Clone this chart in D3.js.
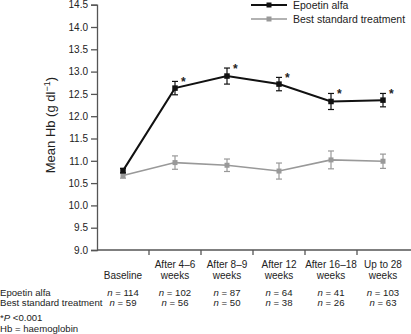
<!DOCTYPE html>
<html>
<head>
<meta charset="utf-8">
<script src="https://cdn.jsdelivr.net/npm/d3@7"></script>
<style>
  body { margin: 0; background: #fff; }
  text { font-family: "Liberation Sans", Arial, sans-serif; fill: #222; }
</style>
</head>
<body>
<div id="chart"></div>
<script>
// data
const categories = ["Baseline", "After 4\u20136|weeks", "After 8\u20139|weeks", "After 12|weeks", "After 16\u201318|weeks", "Up to 28|weeks"];
const epoetinMean = [10.78, 12.63, 12.90, 12.72, 12.33, 12.36];
const epoetinErr = [0.05, 0.15, 0.18, 0.15, 0.18, 0.15];
const bstMean = [10.67, 10.96, 10.90, 10.77, 11.02, 10.99];
const bstErr = [0.06, 0.15, 0.14, 0.18, 0.20, 0.16];
const epoetinN = [114, 102, 87, 64, 41, 103];
const bstN = [59, 56, 50, 38, 26, 63];
const significant = [false, true, true, true, true, true];
const yTicks = [9.0, 9.5, 10.0, 10.5, 11.0, 11.5, 12.0, 12.5, 13.0, 13.5, 14.0, 14.5];

const width = 411, height = 334;
const svg = d3.select("#chart").append("svg")
    .attr("width", width)
    .attr("height", height);

const x = d3.scaleBand()
    .domain(d3.range(categories.length))
    .range([97, 409]);

const y = d3.scaleLinear()
    .domain([9, 14.5])
    .range([250, 4.7]);

// y axis
const yAxis = d3.axisLeft(y)
    .tickValues(yTicks)
    .tickSize(6)
    .tickFormat(d3.format(".1f"));

svg.append("g")
    .attr("transform", "translate(97,0)")
    .call(yAxis)
    .call(g => g.select(".domain").attr("stroke", "#555").attr("stroke-width", 1.3))
    .call(g => g.selectAll(".tick line").attr("stroke", "#555").attr("stroke-width", 1.3))
    .call(g => g.selectAll(".tick text").attr("font-size", 10).attr("fill", "#333").attr("x", -9));

// x axis line with ticks at band boundaries
svg.append("line")
    .attr("x1", 97).attr("x2", width)
    .attr("y1", y(9)).attr("y2", y(9))
    .attr("stroke", "#555").attr("stroke-width", 1.3);

svg.selectAll(".xtick")
    .data(d3.range(1, categories.length))
    .join("line")
    .attr("class", "xtick")
    .attr("x1", i => x(i)).attr("x2", i => x(i))
    .attr("y1", y(9)).attr("y2", y(9) + 5)
    .attr("stroke", "#555").attr("stroke-width", 1.3);

// y label
svg.append("text")
    .attr("transform", `translate(55,${y(11.8)}) rotate(-90)`)
    .attr("text-anchor", "middle")
    .attr("font-size", 13)
    .attr("fill", "#333")
    .html('Mean Hb (g dl<tspan dy="-5" font-size="9">\u22121</tspan><tspan dy="5">)</tspan>');

// category labels
const cx = i => x(i) + x.bandwidth() / 2;
categories.forEach((c, i) => {
    const lines = c.split("|");
    const t = svg.append("text")
        .attr("text-anchor", "middle")
        .attr("font-size", 10)
        .attr("fill", "#333");
    lines.forEach((l, j) => {
        t.append("tspan")
            .attr("x", cx(i))
            .attr("y", 279 - (lines.length - 1 - j) * 11)
            .text(l);
    });
});

// series
const series = [
    {name: "Best standard treatment", mean: bstMean, err: bstErr, color: "#999", lw: 1.6, size: 5},
    {name: "Epoetin alfa", mean: epoetinMean, err: epoetinErr, color: "#111", lw: 2, size: 5.5}
];

const line = d3.line()
    .x((d, i) => cx(i))
    .y(d => y(d));

series.forEach(s => {
    const g = svg.append("g");
    g.append("path")
        .attr("d", line(s.mean))
        .attr("fill", "none")
        .attr("stroke", s.color)
        .attr("stroke-width", s.lw);
    const eb = g.selectAll(".eb")
        .data(s.mean.map((m, i) => ({m, e: s.err[i], i})))
        .join("g");
    eb.append("line")
        .attr("x1", d => cx(d.i)).attr("x2", d => cx(d.i))
        .attr("y1", d => y(d.m - d.e)).attr("y2", d => y(d.m + d.e))
        .attr("stroke", s.color).attr("stroke-width", 1.2);
    eb.selectAll(".cap")
        .data(d => [d.m - d.e, d.m + d.e].map(v => ({v, i: d.i})))
        .join("line")
        .attr("x1", d => cx(d.i) - 3).attr("x2", d => cx(d.i) + 3)
        .attr("y1", d => y(d.v)).attr("y2", d => y(d.v))
        .attr("stroke", s.color).attr("stroke-width", 1.2);
    eb.append("rect")
        .attr("x", d => cx(d.i) - s.size / 2)
        .attr("y", d => y(d.m) - s.size / 2)
        .attr("width", s.size).attr("height", s.size)
        .attr("fill", s.color);
});

// significance asterisks
svg.selectAll(".star")
    .data(epoetinMean.map((m, i) => ({m, e: epoetinErr[i], i})).filter(d => significant[d.i]))
    .join("text")
    .attr("class", "star")
    .attr("x", d => cx(d.i) + 6)
    .attr("y", d => y(d.m + d.e) + 5)
    .attr("font-size", 12)
    .attr("font-weight", "bold")
    .attr("fill", "#111")
    .text("*");

// legend
const legend = svg.append("g");
[series[1], series[0]].forEach((s, k) => {
    const ly = 5 + k * 14;
    legend.append("line")
        .attr("x1", 251).attr("x2", 287)
        .attr("y1", ly).attr("y2", ly)
        .attr("stroke", s.color).attr("stroke-width", s.lw);
    legend.append("rect")
        .attr("x", 269 - 2.5).attr("y", ly - 2.5)
        .attr("width", 5).attr("height", 5)
        .attr("fill", s.color);
    legend.append("text")
        .attr("x", 293).attr("y", ly + 4)
        .attr("font-size", 10.5)
        .attr("fill", "#333")
        .text(s.name);
});

// n rows
const nRows = [
    {label: "Epoetin alfa", n: epoetinN, y: 295.5},
    {label: "Best standard treatment", n: bstN, y: 306}
];
nRows.forEach(r => {
    svg.append("text")
        .attr("x", 0).attr("y", r.y)
        .attr("font-size", 9.6)
        .attr("fill", "#333")
        .text(r.label);
    r.n.forEach((v, i) => {
        svg.append("text")
            .attr("x", cx(i)).attr("y", r.y)
            .attr("text-anchor", "middle")
            .attr("font-size", 9.6)
            .attr("fill", "#333")
            .html(`<tspan font-style="italic">n</tspan> = ${v}`);
    });
});

// footnotes
svg.append("text")
    .attr("x", 0).attr("y", 321)
    .attr("font-size", 9.6)
    .attr("fill", "#333")
    .html('*<tspan font-style="italic">P</tspan> &lt;0.001');
svg.append("text")
    .attr("x", 0).attr("y", 332)
    .attr("font-size", 9.6)
    .attr("fill", "#333")
    .text("Hb = haemoglobin");
</script>
</body>
</html>
